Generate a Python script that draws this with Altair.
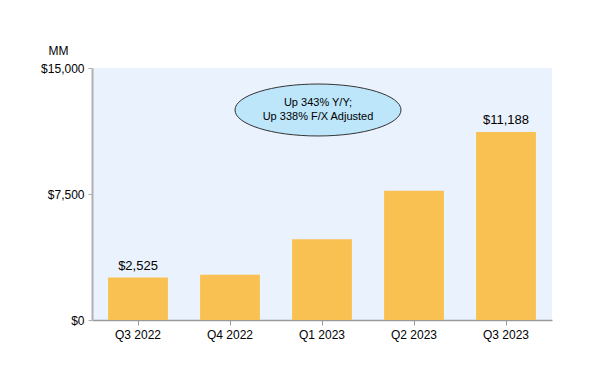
import altair as alt
import pandas as pd

quarters = ["Q3 2022", "Q4 2022", "Q1 2023", "Q2 2023", "Q3 2023"]
values = [2525, 2700, 4800, 7700, 11188]
labels = ["$2,525", "", "", "", "$11,188"]
y_ticks = [0, 7500, 15000]
note_lines = ["Up 343% Y/Y;", "Up 338% F/X Adjusted"]

df = pd.DataFrame({"quarter": quarters, "value": values, "label": labels})

FONT = "Liberation Sans"
k = 0.5523
ry = 0.313
ellipse_path = (
    f"M -1 0 C -1 {-k*ry:.4f} {-k:.4f} {-ry} 0 {-ry} "
    f"C {k:.4f} {-ry} 1 {-k*ry:.4f} 1 0 "
    f"C 1 {k*ry:.4f} {k:.4f} {ry} 0 {ry} "
    f"C {-k:.4f} {ry} -1 {k*ry:.4f} -1 0 Z"
)

x_enc = alt.X("quarter:N", sort=quarters, title=None,
              scale=alt.Scale(paddingInner=0.35, paddingOuter=0.175),
              axis=alt.Axis(labelAngle=0, labelFontSize=12, labelFont=FONT,
                            labelColor="#000", domainColor="#9a9a9a", domainWidth=1.5,
                            tickColor="#9a9a9a", tickSize=5, labelPadding=4))
y_enc = alt.Y("value:Q", scale=alt.Scale(domain=[0, 15000], nice=False),
              axis=alt.Axis(values=y_ticks, format="$,.0f", grid=False,
                            labelFontSize=12, labelFont=FONT, labelColor="#000",
                            domainColor="#b0b0b0", domainWidth=2,
                            tickColor="#b0b0b0", tickSize=4, labelPadding=4,
                            title="MM", titleAngle=0, titleFont=FONT, titleFontSize=12,
                            titleFontWeight="normal", titleColor="#000",
                            titleX=-34, titleY=-11, titleAlign="center"))

bars = alt.Chart(df).mark_bar(color="#F9C152").encode(x=x_enc, y=y_enc)

text = alt.Chart(df).mark_text(baseline="bottom", dy=-5, fontSize=13, font=FONT,
                               color="#000").encode(
    x=alt.X("quarter:N", sort=quarters), y="value:Q", text="label:N")

ellipse = alt.Chart(pd.DataFrame({"a": [0]})).mark_point(
    shape=ellipse_path, size=166 ** 2, filled=True, fill="#BDE6FA",
    stroke="#333333", strokeWidth=1, opacity=1).encode(
    x=alt.value(226), y=alt.datum(12500))

note = alt.Chart(pd.DataFrame({"a": [0]})).mark_text(
    fontSize=11, font=FONT, color="#000", lineHeight=14, baseline="middle", dy=-7
).encode(x=alt.value(226), y=alt.datum(12500), text=alt.value(note_lines))

chart = alt.layer(bars, text, ellipse, note).properties(
    width=460, height=252,
    padding={"left": 84, "top": 60, "right": 54, "bottom": 52},
    autosize=alt.AutoSizeParams(type="none"),
).configure_view(fill="#EAF2FD", stroke=None)

chart.save("out.html", embed_options={"renderer": "svg", "actions": False})
